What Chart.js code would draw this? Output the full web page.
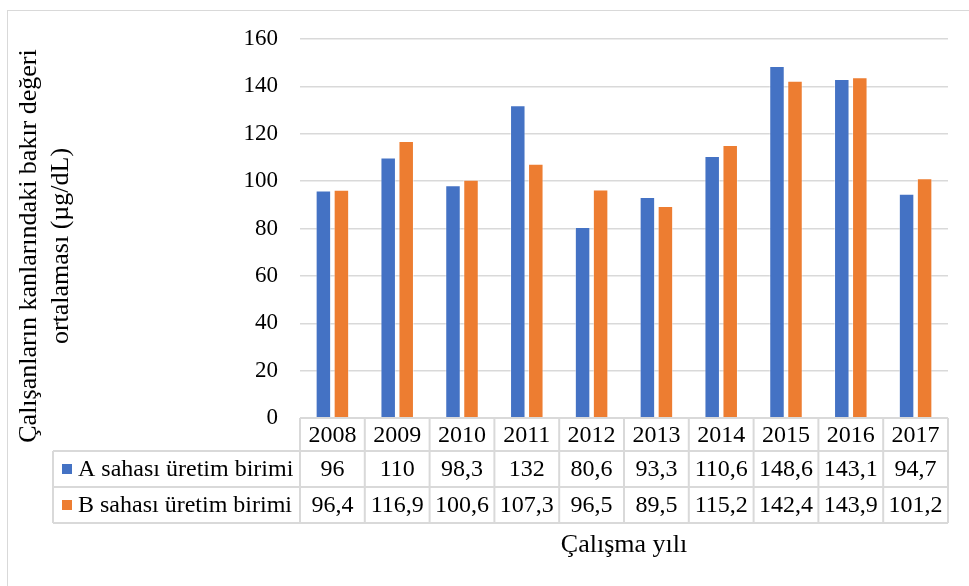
<!DOCTYPE html>
<html>
<head>
  <title>Bakır değeri ortalaması</title>
  <script src="https://cdn.jsdelivr.net/npm/chart.js"></script>
  <style>
    body { margin: 0; background: #fff; }
    #wrap { width: 969px; height: 586px; position: relative; }
  </style>
</head>
<body>
  <div id="wrap"><canvas id="chart"></canvas></div>
  <script>
    const years = ['2008', '2009', '2010', '2011', '2012', '2013', '2014', '2015', '2016', '2017'];
    const siteA = [96, 110, 98.3, 132, 80.6, 93.3, 110.6, 148.6, 143.1, 94.7];
    const siteB = [96.4, 116.9, 100.6, 107.3, 96.5, 89.5, 115.2, 142.4, 143.9, 101.2];
    const seriesNames = ['A sahası üretim birimi', 'B sahası üretim birimi'];
    const yTitle = ['Çalışanların kanlarındaki bakır değeri', 'ortalaması (µg/dL)'];
    const xTitle = 'Çalışma yılı';

    const SERIF = '"Liberation Serif", "Times New Roman", serif';
    const GRID = '#d9d9d9';
    const colors = ['#4472c4', '#ed7d31'];

    // 96,4 style numbers
    const fmt = v => String(v).replace('.', ',');

    // light frame around the whole chart
    const framePlugin = {
      id: 'frame',
      beforeDraw(chart) {
        const ctx = chart.ctx;
        ctx.save();
        ctx.strokeStyle = GRID;
        ctx.lineWidth = 1;
        ctx.strokeRect(7.5, 10.5, 2000, 2000);
        ctx.restore();
      }
    };

    // two-line rotated y title
    const yTitlePlugin = {
      id: 'yTitle',
      afterDraw(chart) {
        const ctx = chart.ctx;
        ctx.save();
        ctx.fillStyle = '#000';
        ctx.font = '26px ' + SERIF;
        ctx.textAlign = 'center';
        ctx.textBaseline = 'middle';
        ctx.translate(29, 246);
        ctx.rotate(-Math.PI / 2);
        yTitle.forEach((line, i) => ctx.fillText(line, 0, i * 32));
        ctx.restore();
      }
    };

    // data table under the plot, columns follow the x scale
    const tablePlugin = {
      id: 'dataTable',
      afterDraw(chart) {
        const ctx = chart.ctx;
        const x = chart.scales.x;
        const top = chart.chartArea.bottom;
        const rowH = [33, 36, 36];
        const rows = [top, top + rowH[0], top + rowH[0] + rowH[1], top + rowH[0] + rowH[1] + rowH[2]];
        const colW = (x.right - x.left) / years.length;
        const keyLeft = 53;

        ctx.save();
        ctx.strokeStyle = GRID;
        ctx.lineWidth = 2;
        ctx.beginPath();
        // horizontal rules
        ctx.moveTo(x.left, rows[0]); ctx.lineTo(x.right, rows[0]);
        for (let r = 1; r < rows.length; r++) {
          ctx.moveTo(keyLeft, rows[r]); ctx.lineTo(x.right, rows[r]);
        }
        // vertical rules
        for (let i = 0; i <= years.length; i++) {
          const px = x.left + i * colW;
          ctx.moveTo(px, rows[0]); ctx.lineTo(px, rows[3]);
        }
        ctx.moveTo(keyLeft, rows[1]); ctx.lineTo(keyLeft, rows[3]);
        ctx.stroke();

        ctx.fillStyle = '#000';
        ctx.font = '24px ' + SERIF;
        ctx.textAlign = 'center';
        ctx.textBaseline = 'middle';
        years.forEach((yr, i) => {
          const cx = x.getPixelForValue(i);
          ctx.fillText(yr, cx, (rows[0] + rows[1]) / 2 + 1);
          ctx.fillText(fmt(siteA[i]), cx, (rows[1] + rows[2]) / 2 + 1);
          ctx.fillText(fmt(siteB[i]), cx, (rows[2] + rows[3]) / 2 + 1);
        });

        // legend keys in the first column
        ctx.textAlign = 'left';
        seriesNames.forEach((name, s) => {
          const cy = (rows[s + 1] + rows[s + 2]) / 2;
          ctx.fillStyle = colors[s];
          ctx.fillRect(62, cy - 5, 10, 10);
          ctx.fillStyle = '#000';
          ctx.fillText(name, 78, cy + 1);
        });
        ctx.restore();
      }
    };

    new Chart(document.getElementById('chart'), {
      type: 'bar',
      data: {
        labels: years,
        datasets: [
          { label: seriesNames[0], data: siteA, backgroundColor: colors[0], borderColor: 'rgba(255,255,255,0.45)', borderWidth: 1 },
          { label: seriesNames[1], data: siteB, backgroundColor: colors[1], borderColor: 'rgba(255,255,255,0.45)', borderWidth: 1 }
        ]
      },
      options: {
        responsive: true,
        maintainAspectRatio: false,
        animation: false,
        layout: { padding: { top: 39, right: 21, bottom: 0, left: 0 } },
        datasets: { bar: { categoryPercentage: 0.556, barPercentage: 0.86 } },
        plugins: {
          legend: { display: false },
          tooltip: { enabled: false }
        },
        scales: {
          x: {
            grid: { display: false, drawTicks: false },
            border: { display: false },
            ticks: { display: false },
            title: {
              display: true,
              text: xTitle,
              color: '#000',
              font: { family: SERIF, size: 26 },
              padding: { top: 0, bottom: 25 }
            },
            afterFit(scale) { scale.height = 168; }
          },
          y: {
            min: 0,
            max: 160,
            ticks: {
              stepSize: 20,
              padding: 22,
              color: '#000',
              font: { family: SERIF, size: 23 }
            },
            grid: { color: GRID, lineWidth: 1.5, drawTicks: false },
            border: { display: false },
            afterFit(scale) { scale.width = 300; }
          }
        }
      },
      plugins: [framePlugin, yTitlePlugin, tablePlugin]
    });
  </script>
</body>
</html>
